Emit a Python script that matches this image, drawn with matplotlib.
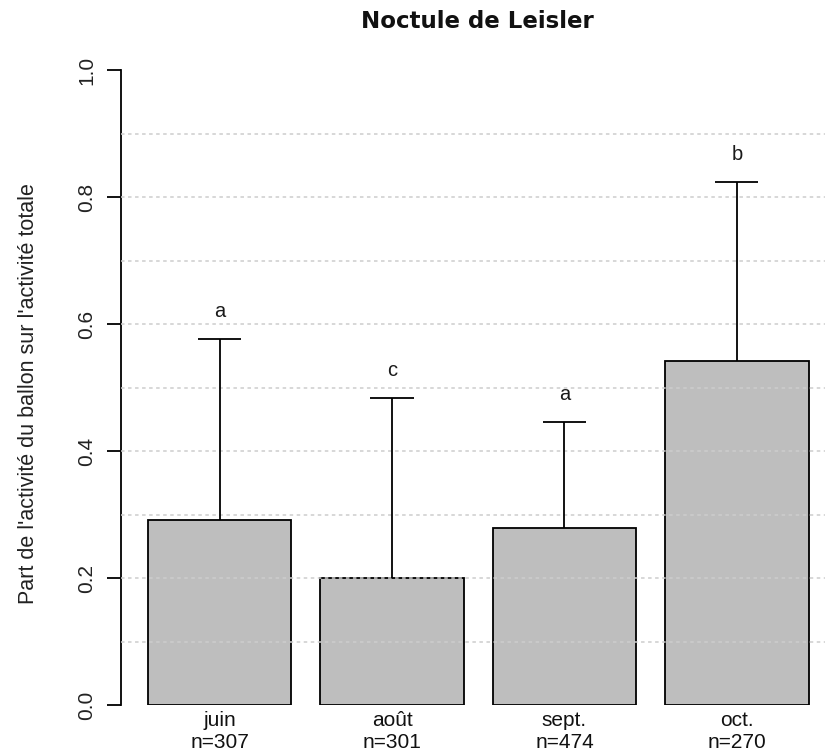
import matplotlib
matplotlib.use("Agg")
import matplotlib.pyplot as plt
import numpy as np

# ---- data ----
months = ["juin", "août", "sept.", "oct."]
counts = [307, 301, 474, 270]
means = [0.291, 0.200, 0.279, 0.542]
upper = [0.576, 0.483, 0.446, 0.824]
letters = ["a", "c", "a", "b"]
yticks = [0.0, 0.2, 0.4, 0.6, 0.8, 1.0]
ytick_labels = ["0.0", "0.2", "0.4", "0.6", "0.8", "1.0"]
grid_levels = [0.1, 0.2, 0.3, 0.4, 0.5, 0.6, 0.7, 0.8, 0.9]

plt.rcParams["font.family"] = ["Liberation Sans", "DejaVu Sans"]

W, H = 825, 756
fig = plt.figure(figsize=(W / 100, H / 100), dpi=100)
ax = fig.add_axes([121 / W, (H - 705) / H, (W - 121) / W, (705 - 70.3) / H])

# R barplot geometry: width 1, space 0.2
centers = 0.2 + 0.5 + 1.2 * np.arange(len(months))
ax.set_xlim(0.0142, 4.913)
ax.set_ylim(0, 1)

ax.bar(centers, means, width=1.0, color="#bebebe", edgecolor="black",
       linewidth=1.3, zorder=2)

for g in grid_levels:
    ax.axhline(g, color="#cdcdcd", linewidth=1.1, linestyle=(0, (2.3, 2.3)),
               zorder=3)

cap = 0.15
for c, m, u, l in zip(centers, means, upper, letters):
    ax.plot([c, c], [m, u], color="black", linewidth=1.3, zorder=4,
            solid_capstyle="butt")
    ax.plot([c - cap, c + cap], [u, u], color="black", linewidth=1.3,
            zorder=4, solid_capstyle="butt")
    ax.text(c, u + 0.035, l, ha="center", va="baseline", fontsize=14.5,
            color="#1a1a1a", zorder=5)

for s in ["top", "right", "bottom"]:
    ax.spines[s].set_visible(False)
ax.spines["left"].set_linewidth(1.3)
ax.spines["left"].set_bounds(0, 1)

ax.set_yticks(yticks)
ax.set_yticklabels(ytick_labels, rotation=90, va="center", fontsize=15,
                   color="#222222")
ax.tick_params(axis="y", length=10, width=1.3, pad=8)

ax.set_xticks(centers)
ax.set_xticklabels([f"{m}\nn={n}" for m, n in zip(months, counts)],
                   fontsize=15, linespacing=1.2, color="#111111")
ax.tick_params(axis="x", length=0, pad=4)

fig.text(29 / W, 1 - 394 / H,
         "Part de l'activité du ballon sur l'activité totale",
         rotation=90, ha="center", va="center", fontsize=15.5,
         color="#222222")

fig.text(477 / W, 1 - 28.3 / H, "Noctule de Leisler", ha="center",
         va="baseline", fontsize=16.5, fontweight="bold",
         family="DejaVu Sans", color="#111111")

fig.savefig("out.png", dpi=100, facecolor="white")
